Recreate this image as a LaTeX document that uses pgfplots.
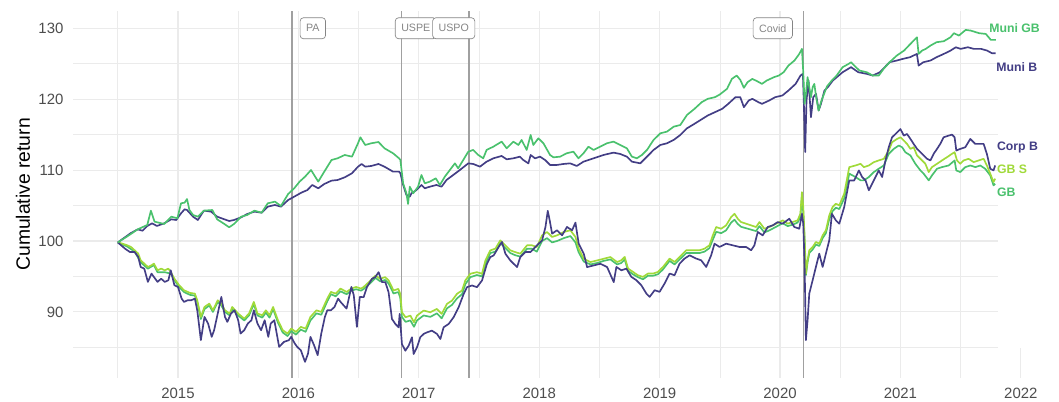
\documentclass[border=0pt]{standalone}
\usepackage{fontspec}
\setmainfont{Liberation Sans}
\usepackage{pgfplots}
\pgfplotsset{compat=1.18}
\definecolor{cpurple}{HTML}{433E85}
\definecolor{cgreen}{HTML}{4AC16D}
\definecolor{cyellow}{HTML}{A0DA39}
\definecolor{gridc}{HTML}{EBEBEB}
\definecolor{tickc}{HTML}{4D4D4D}
\definecolor{evc}{HTML}{A0A0A0}
\definecolor{evt}{HTML}{858585}
\begin{document}
\begin{tikzpicture}
\path[use as bounding box] (-54.75pt,-17.25pt) rectangle (739.5pt,283.5pt);
\begin{axis}[
  at={(0,0)}, anchor=south west,
  scale only axis, width=724.5pt, height=275.5pt,
  xmin=2014.128, xmax=2022.151, ymin=80.68, ymax=132.48,
  clip=false,
  axis line style={draw=none},
  tick style={draw=none},
  major tick length=0pt, minor tick length=0pt,
  xtick={2015,2016,2017,2018,2019,2020,2021,2022},
  xticklabels={2015,2016,2017,2018,2019,2020,2021,2022},
  ytick={90,100,110,120,130},
  yticklabels={90,100,110,120,130},
  minor xtick={2014.5,2015.5,2016.5,2017.5,2018.5,2019.5,2020.5,2021.5},
  minor ytick={85,95,105,115,125},
  grid=both,
  major grid style={gridc, line width=0.85pt},
  minor grid style={gridc, line width=0.45pt},
  xticklabel style={font=\fontsize{11.2}{13}\selectfont, text=tickc, inner sep=0pt, anchor=north, yshift=-7.5pt},
  yticklabel style={font=\fontsize{11.2}{13}\selectfont, text=tickc, inner sep=0pt, anchor=east, xshift=-7pt},
  ylabel={Cumulative return},
  ylabel style={font=\fontsize{14.5}{17}\selectfont, at={(axis description cs:-0.0518,0.5)}, anchor=center, inner sep=0pt},
  every axis plot/.append style={line width=1.25pt, line join=round, mark=none},
]
% white area behind the series labels
\fill[white] (axis cs:2021.81,84.85) rectangle (axis cs:2022.151,132.48);
% event lines
\draw[evc, line width=1.1pt] (axis cs:2015.947,80.68) -- (axis cs:2015.947,132.48);
\draw[evc, line width=1.1pt] (axis cs:2016.855,80.68) -- (axis cs:2016.855,132.48);
\draw[evc, line width=1.1pt] (axis cs:2017.415,80.68) -- (axis cs:2017.415,132.48);
\draw[evc, line width=1.1pt] (axis cs:2020.193,80.68) -- (axis cs:2020.193,132.48);

% GB
\addplot[cgreen] coordinates {
(2014.50,99.8)(2014.58,99.2)(2014.64,98.5)(2014.69,97.0)(2014.75,96.1)(2014.80,96.6)(2014.83,95.6)(2014.89,95.6)(2014.94,95.4)(2014.97,94.5)
(2015.01,93.5)(2015.05,92.8)(2015.10,92.4)(2015.14,92.3)(2015.16,91.4)(2015.19,89.0)(2015.22,90.4)(2015.26,90.9)(2015.29,90.0)(2015.33,91.4)
(2015.36,90.9)(2015.39,90.0)(2015.43,89.5)(2015.45,90.4)(2015.50,89.5)(2015.55,88.8)(2015.59,89.5)(2015.63,91.1)(2015.66,89.5)(2015.70,89.2)
(2015.73,89.9)(2015.76,89.2)(2015.79,90.4)(2015.83,88.5)(2015.87,87.1)(2015.91,86.6)(2015.94,87.3)(2015.98,86.8)(2016.02,87.5)(2016.06,87.2)
(2016.10,88.8)(2016.15,89.8)(2016.19,89.6)(2016.24,91.5)(2016.27,92.5)(2016.31,92.2)(2016.35,92.9)(2016.40,92.5)(2016.44,93.0)(2016.48,93.2)
(2016.52,93.0)(2016.54,93.2)(2016.60,94.1)(2016.64,94.8)(2016.68,94.3)(2016.72,94.5)(2016.75,94.0)(2016.79,92.6)(2016.83,92.8)(2016.846,92.0)
(2016.86,89.3)(2016.89,88.6)(2016.93,88.8)(2016.96,87.9)(2016.985,88.8)(2017.04,89.5)(2017.096,89.3)(2017.15,89.8)(2017.19,89.1)(2017.234,90.5)
(2017.276,91.0)(2017.317,91.9)(2017.359,92.5)(2017.386,93.9)(2017.428,94.9)(2017.483,95.2)(2017.525,95.0)(2017.553,96.8)(2017.594,98.3)(2017.636,98.5)
(2017.677,99.7)(2017.719,99.0)(2017.76,98.3)(2017.80,98.0)(2017.843,97.8)(2017.899,98.9)(2017.94,98.9)(2017.98,98.5)(2018.024,100.0)(2018.065,100.4)
(2018.107,99.8)(2018.148,100.0)(2018.204,100.4)(2018.259,100.7)(2018.301,99.8)(2018.328,98.4)(2018.37,97.1)(2018.425,96.7)(2018.481,96.9)(2018.536,97.2)
(2018.591,97.4)(2018.647,96.7)(2018.682,96.9)(2018.710,97.4)(2018.738,95.8)(2018.779,95.3)(2018.820,94.9)(2018.862,94.6)(2018.903,95.1)(2018.945,95.1)
(2018.986,95.3)(2019.028,96.0)(2019.083,97.2)(2019.124,96.7)(2019.166,97.4)(2019.221,98.3)(2019.276,98.3)(2019.331,98.3)(2019.373,98.5)(2019.414,99.0)
(2019.442,100.2)(2019.470,101.3)(2019.511,101.1)(2019.552,101.5)(2019.594,102.6)(2019.622,103.0)(2019.649,102.4)(2019.677,102.0)(2019.718,101.8)(2019.760,101.6)
(2019.801,101.4)(2019.829,102.1)(2019.870,101.2)(2019.912,101.5)(2019.967,102.0)(2020.022,102.5)(2020.064,102.1)(2020.105,102.3)(2020.146,102.6)(2020.169,103.4)
(2020.182,106.2)(2020.193,104.0)(2020.202,101.0)(2020.215,95.2)(2020.229,97.0)(2020.243,98.3)(2020.271,98.8)(2020.298,99.5)(2020.326,99.3)(2020.354,100.4)
(2020.381,101.1)(2020.409,103.1)(2020.436,104.2)(2020.464,104.7)(2020.492,104.5)(2020.533,106.0)(2020.575,109.5)(2020.627,109.02)(2020.669,108.55)(2020.696,108.55)
(2020.738,109.02)(2020.779,109.72)(2020.820,110.19)(2020.862,110.65)(2020.903,112.29)(2020.945,112.99)(2020.986,113.46)(2021.014,113.22)(2021.041,112.52)(2021.083,112.06)
(2021.124,110.89)(2021.166,109.95)(2021.193,109.49)(2021.235,108.55)(2021.262,109.25)(2021.304,110.19)(2021.345,110.42)(2021.401,110.65)(2021.450,111.36)(2021.464,109.95)
(2021.497,109.72)(2021.539,110.42)(2021.580,110.65)(2021.622,110.42)(2021.663,110.65)(2021.704,110.19)(2021.746,109.25)(2021.773,107.85)(2021.787,108.08)
};
% GB S
\addplot[cyellow] coordinates {
(2014.50,99.8)(2014.54,99.62)(2014.58,99.39)(2014.61,99.15)(2014.64,98.69)(2014.67,98.22)(2014.69,97.28)(2014.72,96.81)(2014.75,96.34)(2014.78,96.57)
(2014.80,96.81)(2014.83,95.87)(2014.86,96.10)(2014.89,95.87)(2014.92,96.10)(2014.94,95.63)(2014.97,94.69)(2015.01,93.76)(2015.05,93.05)(2015.10,92.68)
(2015.14,92.58)(2015.16,91.64)(2015.19,89.30)(2015.22,90.70)(2015.26,91.17)(2015.29,90.23)(2015.33,91.64)(2015.36,91.17)(2015.39,90.23)(2015.43,89.77)
(2015.45,90.70)(2015.50,89.77)(2015.55,89.06)(2015.59,89.77)(2015.63,91.41)(2015.66,89.77)(2015.70,89.53)(2015.73,90.23)(2015.76,89.53)(2015.79,90.70)
(2015.83,88.83)(2015.87,87.42)(2015.91,86.95)(2015.94,87.65)(2015.98,87.18)(2016.02,87.89)(2016.06,87.65)(2016.10,89.30)(2016.15,90.23)(2016.19,90.00)
(2016.24,91.88)(2016.27,92.82)(2016.31,92.58)(2016.35,93.29)(2016.40,92.82)(2016.44,93.29)(2016.48,93.52)(2016.52,93.29)(2016.54,93.49)(2016.60,94.43)
(2016.64,95.14)(2016.68,94.67)(2016.72,94.91)(2016.75,94.43)(2016.79,93.02)(2016.83,93.25)(2016.846,92.55)(2016.86,89.95)(2016.89,89.25)(2016.93,89.48)
(2016.96,88.54)(2016.985,89.48)(2017.04,90.19)(2017.096,89.95)(2017.15,90.42)(2017.19,89.72)(2017.234,91.13)(2017.276,91.60)(2017.317,92.55)(2017.359,93.02)
(2017.386,94.43)(2017.428,95.38)(2017.483,95.61)(2017.525,95.38)(2017.553,97.26)(2017.594,98.68)(2017.636,98.92)(2017.677,100.09)(2017.719,99.39)(2017.76,98.68)
(2017.80,98.44)(2017.843,98.21)(2017.899,99.39)(2017.94,99.39)(2017.98,99.15)(2018.024,100.80)(2018.065,101.27)(2018.107,100.57)(2018.148,100.80)(2018.204,101.27)
(2018.259,101.51)(2018.301,100.57)(2018.328,98.92)(2018.37,97.50)(2018.425,97.03)(2018.481,97.26)(2018.536,97.50)(2018.591,97.74)(2018.647,97.03)(2018.682,97.28)
(2018.710,97.75)(2018.738,96.11)(2018.779,95.64)(2018.820,95.17)(2018.862,94.94)(2018.903,95.41)(2018.945,95.41)(2018.986,95.64)(2019.028,96.34)(2019.083,97.52)
(2019.124,97.05)(2019.166,97.75)(2019.221,98.69)(2019.276,98.69)(2019.331,98.69)(2019.373,98.92)(2019.414,99.39)(2019.442,100.80)(2019.470,101.97)(2019.511,101.73)
(2019.552,102.20)(2019.594,103.38)(2019.622,103.84)(2019.649,103.14)(2019.677,102.67)(2019.718,102.44)(2019.760,102.20)(2019.801,101.97)(2019.829,102.67)(2019.870,101.73)
(2019.912,101.97)(2019.967,102.44)(2020.022,102.91)(2020.064,102.44)(2020.105,102.67)(2020.146,102.91)(2020.169,103.84)(2020.182,106.89)(2020.193,104.78)(2020.202,101.50)
(2020.215,95.41)(2020.229,97.28)(2020.243,98.69)(2020.271,99.16)(2020.298,99.86)(2020.326,99.62)(2020.354,100.80)(2020.381,101.50)(2020.409,103.61)(2020.436,104.78)
(2020.464,105.25)(2020.492,105.02)(2020.533,106.66)(2020.575,110.41)(2020.627,110.65)(2020.669,110.89)(2020.696,110.42)(2020.738,110.65)(2020.779,111.12)(2020.820,111.36)
(2020.862,111.59)(2020.903,112.76)(2020.931,113.93)(2020.972,114.39)(2021.000,114.63)(2021.028,114.16)(2021.055,113.69)(2021.083,112.99)(2021.110,113.22)(2021.138,112.06)
(2021.180,111.36)(2021.207,110.89)(2021.235,109.72)(2021.262,110.42)(2021.304,110.89)(2021.345,111.36)(2021.387,111.82)(2021.428,112.29)(2021.450,112.52)(2021.470,111.36)
(2021.497,110.89)(2021.525,111.36)(2021.566,111.59)(2021.608,111.12)(2021.649,111.36)(2021.691,111.59)(2021.718,110.65)(2021.746,109.49)(2021.773,108.32)(2021.787,108.79)
};
% Corp B
\addplot[cpurple] coordinates {
(2014.50,99.8)(2014.56,98.92)(2014.60,98.45)(2014.64,98.45)(2014.67,97.75)(2014.69,96.34)(2014.72,96.10)(2014.75,94.23)(2014.78,95.40)(2014.80,94.93)
(2014.83,94.23)(2014.86,94.69)(2014.89,94.23)(2014.92,94.46)(2014.94,95.87)(2014.97,93.76)(2015.00,93.52)(2015.03,91.88)(2015.05,91.41)(2015.08,91.64)
(2015.11,91.64)(2015.14,91.88)(2015.16,90.23)(2015.18,87.42)(2015.19,86.01)(2015.22,89.30)(2015.25,88.36)(2015.28,86.48)(2015.30,87.42)(2015.33,89.77)
(2015.36,92.11)(2015.39,89.30)(2015.41,88.59)(2015.44,89.77)(2015.47,90.23)(2015.50,88.83)(2015.52,86.95)(2015.55,87.42)(2015.58,88.36)(2015.61,88.83)
(2015.63,90.23)(2015.66,88.36)(2015.69,87.42)(2015.72,88.83)(2015.75,86.48)(2015.77,88.36)(2015.80,88.83)(2015.84,85.07)(2015.88,85.77)(2015.92,86.01)
(2015.94,86.48)(2015.97,85.54)(2015.99,85.07)(2016.02,84.60)(2016.055,82.96)(2016.08,84.13)(2016.10,86.48)(2016.13,85.31)(2016.16,83.90)(2016.19,86.95)
(2016.22,89.30)(2016.24,90.23)(2016.27,90.23)(2016.30,90.70)(2016.33,91.88)(2016.35,91.41)(2016.40,90.47)(2016.44,93.52)(2016.46,92.35)(2016.486,87.89)
(2016.51,92.11)(2016.542,92.08)(2016.569,93.49)(2016.611,94.67)(2016.639,94.91)(2016.666,95.61)(2016.694,94.20)(2016.722,94.20)(2016.749,92.78)(2016.777,89.01)
(2016.805,88.30)(2016.832,87.83)(2016.841,89.72)(2016.86,85.47)(2016.888,84.53)(2016.916,85.24)(2016.943,86.42)(2016.957,84.06)(2016.985,85.00)(2017.012,86.42)
(2017.04,86.89)(2017.068,87.12)(2017.109,87.36)(2017.151,86.89)(2017.179,86.18)(2017.206,87.83)(2017.248,88.30)(2017.289,89.25)(2017.331,90.66)(2017.373,92.55)
(2017.40,93.49)(2017.442,93.73)(2017.483,93.49)(2017.525,94.43)(2017.566,96.79)(2017.594,97.74)(2017.622,97.97)(2017.663,99.15)(2017.691,99.86)(2017.719,98.21)
(2017.76,97.26)(2017.816,96.32)(2017.843,97.74)(2017.885,98.44)(2017.927,98.44)(2017.982,99.39)(2018.024,100.09)(2018.052,101.98)(2018.071,104.25)(2018.087,102.92)
(2018.107,101.04)(2018.148,101.51)(2018.19,100.80)(2018.231,101.98)(2018.273,101.51)(2018.301,102.59)(2018.328,99.62)(2018.37,98.21)(2018.398,96.32)(2018.453,96.56)
(2018.508,96.79)(2018.564,96.32)(2018.619,94.20)(2018.641,96.34)(2018.682,95.87)(2018.724,96.11)(2018.765,94.94)(2018.807,94.47)(2018.848,93.76)(2018.890,92.59)
(2018.917,92.12)(2018.959,93.06)(2019.000,92.83)(2019.041,94.00)(2019.083,95.41)(2019.124,95.17)(2019.166,96.81)(2019.207,97.52)(2019.249,97.98)(2019.304,97.52)
(2019.345,97.28)(2019.387,96.34)(2019.428,97.98)(2019.456,99.62)(2019.497,99.16)(2019.552,99.62)(2019.608,99.39)(2019.663,99.16)(2019.718,99.16)(2019.760,98.69)
(2019.787,99.39)(2019.815,101.27)(2019.856,100.80)(2019.898,101.97)(2019.939,102.20)(2019.981,102.67)(2020.022,102.44)(2020.077,103.14)(2020.119,101.97)(2020.160,101.73)
(2020.182,103.84)(2020.193,102.44)(2020.204,96.81)(2020.215,86.03)(2020.229,88.84)(2020.243,92.59)(2020.271,94.47)(2020.298,96.34)(2020.326,98.22)(2020.354,96.34)
(2020.381,98.22)(2020.409,100.09)(2020.431,103.84)(2020.464,102.91)(2020.492,102.44)(2020.533,104.78)(2020.575,108.53)(2020.616,108.53)(2020.655,109.95)(2020.682,109.02)
(2020.710,108.55)(2020.738,107.15)(2020.765,108.08)(2020.793,109.02)(2020.820,109.95)(2020.848,109.02)(2020.876,111.36)(2020.903,113.22)(2020.931,114.63)(2020.959,115.09)
(2021.000,115.79)(2021.028,114.86)(2021.055,115.09)(2021.083,114.39)(2021.110,113.69)(2021.138,112.99)(2021.166,112.52)(2021.193,112.06)(2021.221,111.59)(2021.249,111.36)
(2021.276,112.29)(2021.304,112.99)(2021.331,113.69)(2021.359,114.63)(2021.401,114.86)(2021.428,115.00)(2021.450,114.63)(2021.464,112.76)(2021.497,112.99)(2021.539,113.22)
(2021.580,114.39)(2021.622,113.69)(2021.663,113.69)(2021.691,113.69)(2021.718,112.29)(2021.746,110.19)(2021.773,109.95)(2021.787,110.65)
};
% Muni B
\addplot[cpurple] coordinates {
(2014.50,99.8)(2014.575,100.71)(2014.605,101.08)(2014.665,101.64)(2014.705,101.45)(2014.745,102.12)(2014.785,102.49)(2014.825,102.12)(2014.885,102.49)(2014.945,103.06)
(2014.985,102.96)(2015.025,103.90)(2015.055,104.47)(2015.075,104.37)(2015.125,103.43)(2015.165,102.96)(2015.215,104.28)(2015.275,104.14)(2015.325,103.43)(2015.385,103.06)
(2015.425,102.82)(2015.465,102.96)(2015.525,103.34)(2015.575,103.81)(2015.635,104.14)(2015.695,103.99)(2015.745,104.84)(2015.805,105.08)(2015.855,104.84)(2015.915,105.78)
(2015.965,106.25)(2016.025,106.82)(2016.075,107.19)(2016.115,107.90)(2016.165,107.43)(2016.215,108.04)(2016.275,108.51)(2016.325,108.60)(2016.385,108.98)(2016.445,109.55)
(2016.495,110.48)(2016.525,110.86)(2016.555,110.48)(2016.605,110.58)(2016.665,110.86)(2016.715,110.48)(2016.786,109.78)(2016.836,109.78)(2016.847,109.55)(2016.870,107.90)
(2016.897,106.49)(2016.925,106.25)(2016.939,106.72)(2016.981,107.19)(2017.022,107.90)(2017.050,107.43)(2017.092,107.66)(2017.147,107.90)(2017.189,107.66)(2017.230,108.60)
(2017.286,109.31)(2017.341,110.01)(2017.411,110.95)(2017.452,110.86)(2017.508,110.48)(2017.563,111.19)(2017.619,111.66)(2017.688,111.99)(2017.730,111.52)(2017.785,111.66)
(2017.840,111.89)(2017.868,111.42)(2017.910,110.95)(2017.929,112.13)(2017.965,111.66)(2018.007,111.89)(2018.049,111.42)(2018.090,110.72)(2018.146,110.72)(2018.201,110.86)
(2018.257,110.95)(2018.312,110.58)(2018.368,111.19)(2018.451,111.66)(2018.534,112.13)(2018.617,112.46)(2018.673,112.27)(2018.728,111.89)(2018.770,111.19)(2018.839,110.95)
(2018.895,111.89)(2018.950,112.84)(2019.006,113.54)(2019.061,113.78)(2019.117,114.25)(2019.172,114.95)(2019.227,115.89)(2019.29,116.53)(2019.40,117.70)(2019.52,118.64)
(2019.57,119.34)(2019.63,120.28)(2019.67,120.28)(2019.70,118.87)(2019.74,119.81)(2019.77,120.05)(2019.82,119.58)(2019.85,119.34)(2019.91,119.81)(2019.96,120.28)
(2020.02,120.52)(2020.07,121.22)(2020.13,122.16)(2020.17,123.33)(2020.19,123.57)(2020.198,119.34)(2020.209,112.54)(2020.22,119.81)(2020.237,122.63)(2020.257,117.46)
(2020.276,120.28)(2020.299,120.75)(2020.321,118.40)(2020.34,119.34)(2020.369,121.22)(2020.397,121.69)(2020.439,122.63)(2020.52,123.80)(2020.59,124.51)(2020.65,123.80)
(2020.72,123.57)(2020.77,123.33)(2020.83,123.80)(2020.87,124.51)(2020.91,125.21)(2020.97,125.45)(2021.02,125.68)(2021.08,125.92)(2021.137,126.38)(2021.151,124.74)
(2021.19,125.21)(2021.25,125.45)(2021.30,125.92)(2021.36,126.38)(2021.416,126.85)(2021.46,127.32)(2021.50,127.09)(2021.56,127.32)(2021.61,127.09)(2021.67,127.09)
(2021.72,126.85)(2021.76,126.48)(2021.79,126.48)
};
% Muni GB
\addplot[cgreen] coordinates {
(2014.50,99.8)(2014.575,100.61)(2014.665,101.64)(2014.745,102.26)(2014.775,104.28)(2014.805,102.73)(2014.885,102.40)(2014.945,103.43)(2014.995,103.20)(2015.025,105.31)
(2015.055,105.41)(2015.075,105.92)(2015.095,104.37)(2015.125,103.67)(2015.165,103.43)(2015.215,104.28)(2015.285,104.37)(2015.325,103.06)(2015.385,102.40)(2015.425,101.93)
(2015.465,102.40)(2015.525,103.43)(2015.575,103.67)(2015.635,104.28)(2015.695,103.99)(2015.745,105.31)(2015.805,105.55)(2015.855,104.94)(2015.915,106.63)(2015.965,107.43)
(2016.010,108.37)(2016.055,109.07)(2016.105,110.01)(2016.165,108.37)(2016.215,109.78)(2016.275,111.42)(2016.325,111.66)(2016.385,112.13)(2016.445,111.89)(2016.495,113.78)
(2016.515,114.62)(2016.555,113.54)(2016.605,113.78)(2016.665,113.96)(2016.715,113.07)(2016.786,112.37)(2016.836,111.66)(2016.847,111.42)(2016.870,108.13)(2016.897,106.72)
(2016.911,105.22)(2016.925,107.66)(2016.953,106.72)(2016.994,107.66)(2017.022,109.31)(2017.050,108.13)(2017.092,108.37)(2017.141,108.84)(2017.175,107.90)(2017.216,109.07)
(2017.258,110.01)(2017.300,110.95)(2017.327,110.25)(2017.369,111.42)(2017.411,112.60)(2017.452,112.84)(2017.494,112.13)(2017.535,111.66)(2017.563,112.84)(2017.619,113.30)
(2017.688,114.01)(2017.730,113.07)(2017.785,114.01)(2017.827,113.54)(2017.854,114.25)(2017.896,112.84)(2017.929,114.95)(2017.951,113.54)(2017.993,114.48)(2018.035,113.78)
(2018.090,112.13)(2018.118,111.80)(2018.173,111.89)(2018.229,112.37)(2018.284,112.60)(2018.326,111.66)(2018.368,112.37)(2018.409,113.30)(2018.451,112.84)(2018.506,113.30)
(2018.562,113.78)(2018.617,114.01)(2018.673,113.54)(2018.728,113.07)(2018.770,111.89)(2018.811,111.66)(2018.853,112.13)(2018.895,112.84)(2018.950,114.25)(2019.006,115.19)
(2019.061,115.42)(2019.117,116.12)(2019.172,116.36)(2019.227,117.77)(2019.29,118.64)(2019.35,119.58)(2019.40,120.05)(2019.46,120.28)(2019.50,120.66)(2019.56,121.46)
(2019.60,122.86)(2019.64,123.33)(2019.67,122.72)(2019.70,121.60)(2019.73,122.39)(2019.77,122.86)(2019.81,122.53)(2019.85,122.16)(2019.89,122.63)(2019.95,123.10)
(2019.99,123.33)(2020.03,123.80)(2020.07,124.74)(2020.12,125.45)(2020.16,126.38)(2020.182,127.09)(2020.193,123.80)(2020.204,119.34)(2020.215,120.75)(2020.229,123.10)
(2020.243,121.69)(2020.257,120.28)(2020.271,121.69)(2020.285,122.16)(2020.30,120.28)(2020.321,118.40)(2020.34,119.58)(2020.355,120.28)(2020.39,121.80)(2020.43,122.63)
(2020.47,123.33)(2020.52,124.51)(2020.57,124.98)(2020.59,125.21)(2020.63,124.51)(2020.66,124.04)(2020.72,123.80)(2020.77,123.33)(2020.82,123.33)(2020.86,124.27)
(2020.91,125.21)(2020.97,126.15)(2021.03,126.85)(2021.07,127.56)(2021.11,128.26)(2021.137,128.73)(2021.151,126.38)(2021.18,126.85)(2021.21,127.09)(2021.25,127.56)
(2021.30,128.03)(2021.36,128.17)(2021.416,128.73)(2021.444,129.30)(2021.486,128.97)(2021.542,129.77)(2021.584,129.67)(2021.654,129.30)(2021.709,129.20)(2021.751,128.36)
(2021.793,128.36)
};

% event labels
\tikzset{evlab/.style={draw=evt, fill=white, rounded corners=2.5pt, text=evt, line width=0.5pt,
  font=\fontsize{8}{10}\selectfont, inner xsep=4.5pt, inner ysep=0pt, minimum height=15.75pt}}
\node[evlab] at (axis cs:2016.12,130) {PA};
\node[evlab] at (axis cs:2016.975,130) {USPE};
\node[evlab] at (axis cs:2017.29,130) {USPO};
\node[evlab] at (axis cs:2019.94,130) {Covid};

% series labels
\tikzset{serlab/.style={anchor=west, inner sep=0pt, font=\bfseries\fontsize{9.2}{11}\selectfont}}
\node[serlab, text=cgreen] at (axis cs:2021.736,129.97) {Muni GB};
\node[serlab, text=cpurple] at (axis cs:2021.794,124.58) {Muni B};
\node[serlab, text=cpurple] at (axis cs:2021.80,113.2) {Corp B};
\node[serlab, text=cyellow] at (axis cs:2021.80,110.11) {GB S};
\node[serlab, text=cgreen] at (axis cs:2021.80,106.87) {GB};
\end{axis}
\end{tikzpicture}
\end{document}
